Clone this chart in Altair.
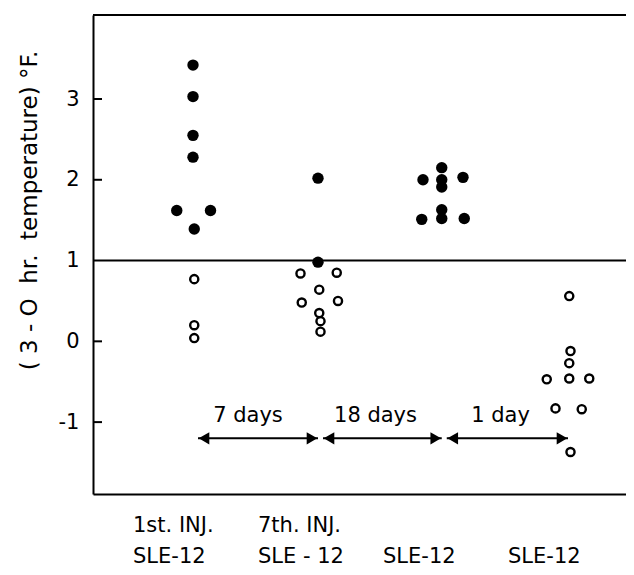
import altair as alt
import pandas as pd

# ---- data ----
filled_x = [0.0, 0.0, 0.0, 0.0, -0.13, 0.14, 0.01,
            1.0, 1.0,
            1.84, 1.99, 1.99, 1.99, 2.16, 1.83, 1.99, 1.99, 2.17]
filled_y = [3.42, 3.03, 2.55, 2.28, 1.62, 1.62, 1.39,
            2.02, 0.98,
            2.00, 2.15, 2.00, 1.91, 2.03, 1.51, 1.63, 1.52, 1.52]

open_x = [0.01, 0.01, 0.01,
          0.86, 1.15, 1.01, 0.87, 1.16, 1.01, 1.02, 1.02,
          3.01, 3.02, 3.01, 2.83, 3.01, 3.17, 2.90, 3.11, 3.02]
open_y = [0.77, 0.20, 0.04,
          0.84, 0.85, 0.64, 0.48, 0.50, 0.35, 0.25, 0.12,
          0.56, -0.12, -0.27, -0.47, -0.46, -0.46, -0.83, -0.84, -1.37]

arrow_start = [0.04, 1.04, 2.03]
arrow_end = [1.0, 1.99, 3.0]
arrow_y = -1.20
interval_labels = ["7 days", "18 days", "1 day"]
interval_label_x = [0.44, 1.46, 2.46]
interval_label_y = -0.93

group_pos = [0, 1, 2, 3]
group_line1 = ["1st. INJ.", "7th. INJ.", "", ""]
group_line2 = ["SLE-12", "SLE - 12", "SLE-12", "SLE-12"]

y_ticks = [-1, 0, 1, 2, 3]
NB = "\u00a0"
y_title = "(" + NB + "3" + NB + "-" + NB + "O" + NB * 2 + "hr." + NB * 2 + "temperature)" + NB + "°F."

FONT = "DejaVu Sans"
W, H = 533, 479

xs = alt.Scale(domain=[-0.8, 3.464], nice=False, zero=False)
ys = alt.Scale(domain=[-1.89, 4.04], nice=False, zero=False)

filled_df = pd.DataFrame({"x": filled_x, "y": filled_y})
open_df = pd.DataFrame({"x": open_x, "y": open_y})
arrows_df = pd.DataFrame({"x": arrow_start, "x2": arrow_end, "y": [arrow_y] * 3})
ilab_df = pd.DataFrame({"x": interval_label_x, "y": [interval_label_y] * 3, "t": interval_labels})
glab_df = pd.DataFrame({"x": group_pos, "l1": group_line1, "l2": group_line2})
ticks_df = pd.DataFrame({"v": [t for t in y_ticks if t != 1]})

base_x = alt.X("x:Q", scale=xs,
               axis=alt.Axis(labels=False, ticks=False, domain=True, domainWidth=2,
                             domainColor="black", grid=False, title=None))
base_y = alt.Y("y:Q", scale=ys,
               axis=alt.Axis(values=y_ticks, ticks=False, domain=True, domainWidth=2,
                             domainColor="black", grid=False, labelFontSize=21,
                             labelFont=FONT, labelColor="black", labelPadding=14,
                             labelExpr="'' + datum.value",
                             title=y_title, titleFont=FONT, titleFontSize=23,
                             titleFontWeight="normal", titleColor="black",
                             titleX=-64, titleY=195, titleAngle=270,
                             titleAlign="center", titleBaseline="middle"))

filled = alt.Chart(filled_df).mark_circle(size=130, color="black", opacity=1).encode(x=base_x, y=base_y)
opened = alt.Chart(open_df).mark_point(size=66, color="black", strokeWidth=2.4, filled=False, opacity=1).encode(
    x=alt.X("x:Q", scale=xs), y=alt.Y("y:Q", scale=ys))

hline = alt.Chart(alt.Data(values=[{}])).mark_rule(color="black", strokeWidth=2).encode(y=alt.datum(1, scale=ys))
top_line = alt.Chart(alt.Data(values=[{}])).mark_rule(color="black", strokeWidth=2).encode(
    x=alt.value(0), x2=alt.value(W), y=alt.value(0))
ticks = alt.Chart(ticks_df).mark_rule(color="black", strokeWidth=2).encode(
    x=alt.value(0), x2=alt.value(9), y=alt.Y("v:Q", scale=ys))

arrow_lines = alt.Chart(arrows_df).mark_rule(color="black", strokeWidth=2).encode(
    x=alt.X("x:Q", scale=xs), x2="x2:Q", y=alt.Y("y:Q", scale=ys))
heads_left = alt.Chart(arrows_df).mark_point(shape="triangle-left", filled=True, color="black",
                                             size=150, opacity=1, xOffset=6).encode(
    x=alt.X("x:Q", scale=xs), y=alt.Y("y:Q", scale=ys))
heads_right = alt.Chart(arrows_df).mark_point(shape="triangle-right", filled=True, color="black",
                                              size=150, opacity=1, xOffset=-6).encode(
    x=alt.X("x2:Q", scale=xs), y=alt.Y("y:Q", scale=ys))
ilabels = alt.Chart(ilab_df).mark_text(font=FONT, fontSize=21, color="black", baseline="middle").encode(
    x=alt.X("x:Q", scale=xs), y=alt.Y("y:Q", scale=ys), text="t:N")

glab1 = alt.Chart(glab_df).mark_text(font=FONT, fontSize=21, color="black", baseline="middle",
                                     align="left", xOffset=-60).encode(
    x=alt.X("x:Q", scale=xs), y=alt.value(H + 32), text="l1:N")
glab2 = alt.Chart(glab_df).mark_text(font=FONT, fontSize=21, color="black", baseline="middle",
                                     align="left", xOffset=-60).encode(
    x=alt.X("x:Q", scale=xs), y=alt.value(H + 63), text="l2:N")

chart = alt.layer(
    hline, top_line, ticks, arrow_lines, heads_left, heads_right, ilabels,
    filled, opened, glab1, glab2
).properties(
    width=W, height=H,
    autosize=alt.AutoSizeParams(type="none"),
    padding={"left": 85, "top": 7, "right": 0, "bottom": 80},
    background="white"
).configure_view(stroke=None)

chart.save("out.html", embed_options={"renderer": "svg", "actions": False})
